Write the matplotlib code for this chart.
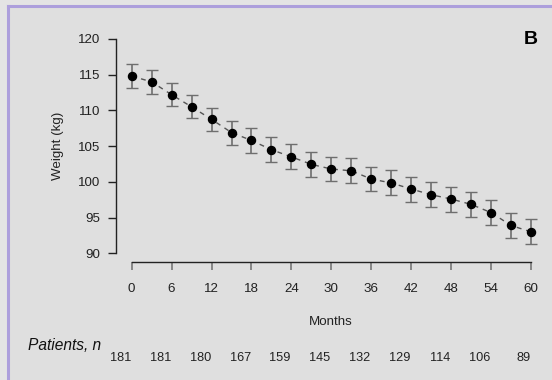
import matplotlib
matplotlib.use("Agg")
import matplotlib.pyplot as plt
from matplotlib.patches import Rectangle
from matplotlib.transforms import blended_transform_factory

plt.rcParams['font.family'] = ['Liberation Sans', 'DejaVu Sans']

# Mean weight (kg) over follow-up, with error bars
months = [0, 3, 6, 9, 12, 15, 18, 21, 24, 27, 30, 33, 36, 39, 42, 45, 48, 51, 54, 57, 60]
weight = [114.8, 114.0, 112.2, 110.5, 108.75, 106.9, 105.8, 104.5, 103.5, 102.45, 101.8,
          101.55, 100.4, 99.85, 99.0, 98.2, 97.6, 96.85, 95.7, 93.9, 93.0]
err = [1.68, 1.66, 1.63, 1.61, 1.58, 1.68, 1.72, 1.73, 1.75, 1.73, 1.73,
       1.73, 1.74, 1.75, 1.75, 1.75, 1.75, 1.75, 1.75, 1.75, 1.75]

# Patients at risk, shown under each 6-month tick
xticks = [0, 6, 12, 18, 24, 30, 36, 42, 48, 54, 60]
yticks = [90, 95, 100, 105, 110, 115, 120]
patients = [181, 181, 180, 167, 159, 145, 132, 129, 114, 106, 89]
patient_pos = [-1.7, 4.3, 10.3, 16.3, 22.3, 28.3, 34.3, 40.3, 46.3, 52.3, 58.85]

W, H = 552, 380
fig = plt.figure(figsize=(W / 100, H / 100), dpi=100)
fig.patch.set_facecolor('#e4e4e4')

# Panel background with a lavender border on the top and left edges
panel = Rectangle((7 / W, 0), 1, 1 - 5 / H, transform=fig.transFigure,
                  facecolor='#dfdfdf', edgecolor='none', zorder=0)
fig.add_artist(panel)
fig.add_artist(plt.Line2D([7.5 / W, 7.5 / W], [0, 1 - 5.5 / H], transform=fig.transFigure,
                          color='#ad9fdc', lw=2.2))
fig.add_artist(plt.Line2D([7.5 / W, 1], [1 - 5.5 / H, 1 - 5.5 / H], transform=fig.transFigure,
                          color='#ad9fdc', lw=2.2))

left, right = 115.7 / W, 547 / W
bottom, top = 1 - 261.9 / H, 1 - 30.4 / H
ax = fig.add_axes([left, bottom, right - left, top - bottom])
ax.set_facecolor('none')
ax.set_xlim(-2.4, 62.4)
ax.set_ylim(88.8, 121.2)

# Dashed trend line through the means
ax.plot(months, weight, linestyle=(0, (3.5, 3.5)), color='#555555', lw=1.0, zorder=2)
line, caps, bars = ax.errorbar(months, weight, yerr=err, fmt='none', ecolor='#6e6e6e',
                               elinewidth=1.2, capsize=4.2, capthick=1.0, zorder=3)
for c in caps:
    c.set_color('#2a2a2a')
ax.plot(months, weight, 'o', color='black', markersize=5.8, zorder=4)

# Detached R-style axes
for s in ('top', 'right'):
    ax.spines[s].set_visible(False)
ax.spines['left'].set_bounds(90, 120)
ax.spines['bottom'].set_bounds(0, 60)
for s in ('left', 'bottom'):
    ax.spines[s].set_color('#222222')
    ax.spines[s].set_linewidth(1.0)
ax.set_xticks(xticks)
ax.set_yticks(yticks)
ax.tick_params(axis='y', direction='out', length=5.8, width=1.0, color='#222222',
               pad=5.5, labelsize=9.6, labelcolor='#222222')
ax.tick_params(axis='x', direction='out', length=5.8, width=1.2, color='#777777',
               pad=9.5, labelsize=9.6, labelcolor='#222222')

fig.text(58 / W, 1 - 146 / H, 'Weight (kg)', rotation=90, ha='center', va='center',
         fontsize=9.6, color='#222222')
fig.text(331 / W, 1 - 321.7 / H, 'Months', ha='center', va='center', fontsize=9.6,
         color='#222222')
fig.text(531 / W, 1 - 39 / H, 'B', ha='center', va='center', fontsize=14,
         fontweight='bold', color='black')

# Patients-at-risk row
fig.text(65 / W, 1 - 346 / H, 'Patients, n', ha='center', va='center', fontsize=11.2,
         style='italic', color='#111111')
tr = blended_transform_factory(ax.transData, fig.transFigure)
for pos, n in zip(patient_pos, patients):
    ax.text(pos, 1 - 358 / H, str(n), transform=tr, ha='center', va='center',
            fontsize=9.2, color='#222222', clip_on=False)

fig.savefig('out.png', dpi=100, facecolor=fig.get_facecolor())
